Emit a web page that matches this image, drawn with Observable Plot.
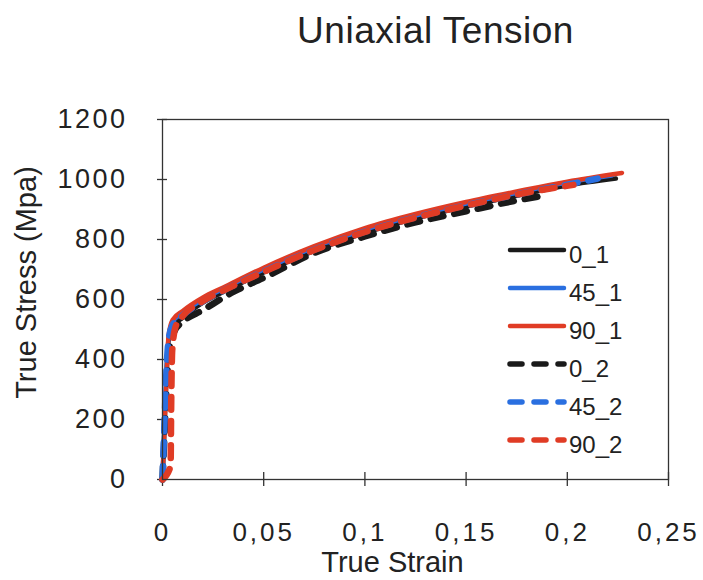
<!DOCTYPE html>
<html>
<head>
<meta charset="utf-8">
<script src="https://cdn.jsdelivr.net/npm/d3@7"></script>
<script src="https://cdn.jsdelivr.net/npm/@observablehq/plot@0.6"></script>
<style>
  html, body { margin: 0; padding: 0; background: #fff; }
  #wrap { width: 703px; height: 580px; position: relative; overflow: hidden; background: #fff; }
  #title { height: 60px; box-sizing: border-box; padding-top: 12px; padding-left: 168px; width: 703px;
           text-align: center; font-family: 'Liberation Sans', Arial, sans-serif; font-size: 37px;
           line-height: 37px; color: #222; letter-spacing: 0.5px; }
</style>
</head>
<body>
<div id="wrap">
  <div id="title">Uniaxial Tension</div>
  <div id="chart"></div>
</div>
<script>
// ---- data ----
const seriesNames  = ["0_1", "45_1", "90_1", "0_2", "45_2", "90_2"];
const seriesColors = ["#1a1a1a", "#2a6fe0", "#e03c25", "#1a1a1a", "#2a6fe0", "#e03c25"];
const seriesDashed = [false, false, false, true, true, true];

const strain_0_1  = [0, 0.001, 0.002, 0.003, 0.005, 0.01, 0.02, 0.03, 0.05, 0.075, 0.1, 0.125, 0.15, 0.175, 0.2, 0.224];
const stress_0_1  = [0, 180, 350, 460, 505, 540, 590, 625, 690, 762, 822, 870, 910, 946, 980, 1003];

const strain_45_1 = [0, 0.001, 0.002, 0.003, 0.005, 0.01, 0.02, 0.03, 0.05, 0.075, 0.1, 0.125, 0.15, 0.175, 0.2, 0.222];
const stress_45_1 = [0, 200, 380, 470, 525, 556, 600, 636, 700, 773, 833, 880, 920, 956, 990, 1013];

const strain_90_1 = [0, 0.001, 0.002, 0.003, 0.005, 0.01, 0.02, 0.03, 0.05, 0.075, 0.1, 0.125, 0.15, 0.175, 0.2, 0.227];
const stress_90_1 = [0, 170, 340, 480, 532, 562, 607, 640, 706, 778, 838, 885, 925, 960, 993, 1022];

const strain_0_2  = [0, 0.001, 0.002, 0.0035, 0.006, 0.01, 0.02, 0.035, 0.05, 0.075, 0.1, 0.125, 0.15, 0.175, 0.19];
const stress_0_2  = [0, 150, 300, 440, 495, 525, 565, 625, 672, 755, 810, 857, 894, 930, 948];

const strain_45_2 = [0, 0.001, 0.002, 0.003, 0.005, 0.01, 0.02, 0.03, 0.05, 0.075, 0.1, 0.125, 0.15, 0.175, 0.2, 0.215];
const stress_45_2 = [0, 190, 370, 465, 515, 548, 594, 630, 694, 766, 826, 874, 914, 950, 983, 1003];

const strain_90_2 = [0, 0.004, 0.0043, 0.0048, 0.0065, 0.01, 0.02, 0.03, 0.05, 0.075, 0.1, 0.125, 0.15, 0.175, 0.203];
const stress_90_2 = [0, 45, 250, 430, 510, 545, 595, 630, 692, 765, 825, 873, 913, 950, 982];

const xTicks = [0, 0.05, 0.1, 0.15, 0.2, 0.25];
const yTicks = [0, 200, 400, 600, 800, 1000, 1200];
const xTitle = "True Strain";
const yTitle = "True Stress (Mpa)";

// ---- build tables ----
const strains = [strain_0_1, strain_45_1, strain_90_1, strain_0_2, strain_45_2, strain_90_2];
const stresses = [stress_0_1, stress_45_1, stress_90_1, stress_0_2, stress_45_2, stress_90_2];
const tables = seriesNames.map((name, i) =>
  strains[i].map((s, j) => ({series: name, strain: s, stress: stresses[i][j]})));

const fmt = d => String(d).replace(".", ",");
const axisColor = "#333";

const lineMarks = tables.map((rows, i) => Plot.line(rows, {
  x: "strain", y: "stress",
  stroke: seriesColors[i],
  strokeWidth: seriesDashed[i] ? 6.5 : 4.5,
  strokeDasharray: seriesDashed[i] ? "13,11" : null,
  strokeLinecap: "round", strokeLinejoin: "round",
  curve: "monotone-x"
}));

const svg = Plot.plot({
  width: 703, height: 520,
  marginTop: 59, marginBottom: 101, marginLeft: 162, marginRight: 35,
  x: {domain: [0, 0.25]},
  y: {domain: [0, 1200]},
  style: {fontFamily: "'Liberation Sans', Arial, sans-serif", color: "#222", background: "white", overflow: "visible"},
  marks: [
    Plot.axisX({ticks: xTicks, tickSize: 7, tickPadding: 36, tickFormat: fmt, fontSize: 26, label: null, stroke: axisColor, strokeWidth: 1.3}),
    Plot.axisX({ticks: xTicks, tickSize: -7, tickFormat: () => "", label: null, stroke: axisColor, strokeWidth: 1.3}),
    Plot.axisY({ticks: yTicks, tickSize: 5, tickPadding: 30, tickFormat: fmt, fontSize: 27, label: null, stroke: axisColor, strokeWidth: 1.3}),
    Plot.axisY({ticks: yTicks, tickSize: -5, tickFormat: () => "", label: null, stroke: axisColor, strokeWidth: 1.3}),
    ...lineMarks,
    Plot.frame({stroke: axisColor, strokeWidth: 1.3}),
    Plot.text([xTitle], {text: d => d, frameAnchor: "bottom", textAnchor: "middle", dx: -23, dy: 83, lineAnchor: "middle", fontSize: 29, fill: "#222"}),
    Plot.text([yTitle], {text: d => d, frameAnchor: "left", textAnchor: "middle", dx: -136, dy: -17, rotate: -90, lineAnchor: "middle", fontSize: 29, fill: "#222"})
  ]
});

d3.select(svg).selectAll('[aria-label="x-axis tick label"] text').attr("letter-spacing", 3);
d3.select(svg).selectAll('[aria-label="y-axis tick label"] text').attr("letter-spacing", 2.5);

// ---- legend (inside the plot area, built from the series arrays) ----
const lg = d3.select(svg).append("g").attr("class", "legend").attr("text-anchor", "start");
seriesNames.forEach((name, i) => {
  const y = 190 + i * 38;
  lg.append("line")
    .attr("x1", 510).attr("x2", 564).attr("y1", y).attr("y2", y)
    .attr("stroke", seriesColors[i])
    .attr("stroke-width", seriesDashed[i] ? 5.5 : 4.5)
    .attr("stroke-linecap", "round")
    .attr("stroke-dasharray", seriesDashed[i] ? "12,12" : null);
  lg.append("text")
    .attr("x", 569).attr("y", y + 13)
    .attr("text-anchor", "start")
    .attr("font-size", 24)
    .attr("fill", "#222")
    .attr("font-family", "'Liberation Sans', Arial, sans-serif")
    .text(name);
});

document.getElementById("chart").appendChild(svg);
</script>
</body>
</html>
